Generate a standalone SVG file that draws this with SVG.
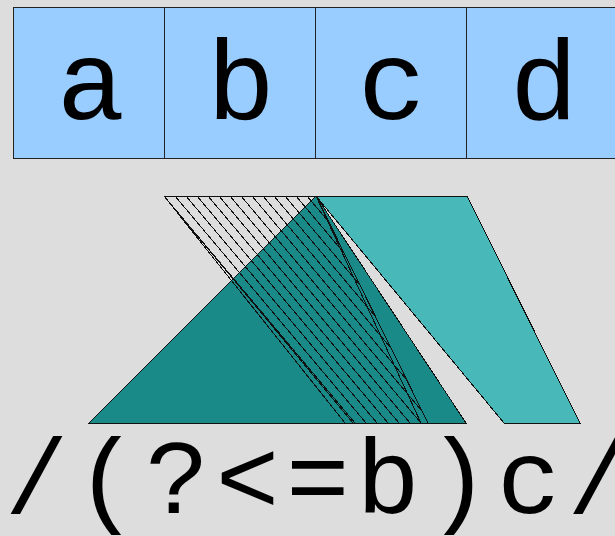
<svg xmlns="http://www.w3.org/2000/svg" width="615" height="536" viewBox="0 0 615 536">
  <style>
    .box { fill: #99ccff; stroke: #222; stroke-width: 1; }
    .big { font-family: "Liberation Mono", "DejaVu Sans Mono", monospace; fill: #000; text-anchor: middle; }
    .edge { stroke: #111; stroke-width: 1; fill: none; shape-rendering: crispEdges; }
    .shape { stroke: #111; stroke-width: 1; shape-rendering: crispEdges; }
  </style>
  <defs>
    <clipPath id="hclip">
      <polygon points="164,196 316,196 428,423 345,423"/>
    </clipPath>
  </defs>
  <rect x="0" y="0" width="615" height="536" fill="#dddddd"/>

  <g id="cells">
    <g id="cell-a"><rect class="box" x="13.5" y="7.5" width="151" height="151"/><text class="big" x="91" y="119" font-size="114">a</text></g>
    <g id="cell-b"><rect class="box" x="164.5" y="7.5" width="151" height="151"/><text class="big" x="241" y="119" font-size="114">b</text></g>
    <g id="cell-c"><rect class="box" x="315.5" y="7.5" width="151" height="151"/><text class="big" x="392" y="119" font-size="114">c</text></g>
    <g id="cell-d"><rect class="box" x="466.5" y="7.5" width="151" height="151" stroke="#556677"/><text class="big" x="544" y="119" font-size="114">d</text></g>
  </g>

  <g id="connectors">
    <g id="lookbehind">
      <polygon class="shape" points="316,196 466,423 89,423" fill="#1a8a88"/>
    </g>
    <g id="match-c">
      <polygon class="shape" points="316,196 467,196 580,423 504,423" fill="#48b8b8"/>
    </g>
    <g id="check-b">
      <g clip-path="url(#hclip)">
        <path class="edge" d="M164,196L355,423 M175,196L366,423 M186,196L377,423 M197,196L388,423 M208,196L399,423 M219,196L410,423 M230,196L421,423 M241,196L432,423 M252,196L443,423 M263,196L454,423 M274,196L465,423 M285,196L476,423 M296,196L487,423 M307,196L498,423"/>
      </g>
      <polygon class="edge" points="164,196 316,196 428,423 353,423"/>
      <polyline class="edge" points="164,196 345,423"/>
      <polyline class="edge" points="316,196 421,423"/>
      <line class="edge" x1="89" y1="423" x2="466" y2="423"/>
    </g>
  </g>

  <g id="regex">
    <text class="big" font-size="106" y="513" x="36.6 106.9 177.2 247.5 317.8 388.1 458.4 528.7 599">/(?&lt;=b)c/</text>
  </g>
</svg>
